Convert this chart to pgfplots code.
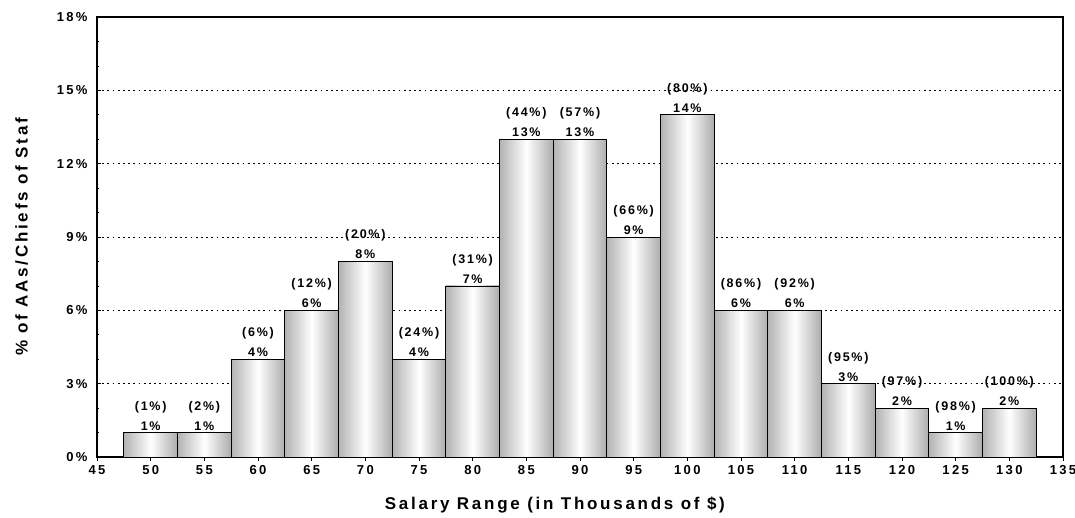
\documentclass[border=0pt]{standalone}
\usepackage{fontspec}
\setmainfont{Liberation Sans}
\usepackage{pgfplots}
\usepackage{pgfplotstable}
\pgfplotsset{compat=1.18}
\pgfplotstableread{
x y cum
50 1 1
55 1 2
60 4 6
65 6 12
70 8 20
75 4 24
80 7 31
85 13 44
90 13 57
95 9 66
100 14 80
105 6 86
110 6 92
115 3 95
120 2 97
125 1 98
130 2 100
}\datatable
\begin{document}
\begin{tikzpicture}
\useasboundingbox (-97pt,-60pt) rectangle (978pt,457pt);
\begin{axis}[
  at={(0,0)}, anchor=south west,
  width=966pt, height=440pt, scale only axis,
  xmin=45, xmax=135, ymin=0, ymax=18,
  xtick={45,50,...,135},
  ytick={0,3,...,18},
  minor y tick num=2,
  yticklabel={\pgfmathprintnumber{\tick}\%},
  /pgf/number format/assume math mode=true,
  ticklabel style={font=\fontsize{13}{15}\selectfont\bfseries\addfontfeature{LetterSpace=18}},
  x tick label style={yshift=-1pt},
  y tick label style={xshift=-6pt},
  xtick align=outside, ytick align=inside,
  major tick length=4pt, minor tick length=2pt,
  tick style={black, line width=0.6pt},
  xtick pos=bottom, ytick pos=left,
  axis line style={line width=1.6pt},
  ymajorgrids,
  grid style={black, line width=0.9pt, dash pattern=on 1.8pt off 3.4pt},
  xlabel={Salary Range (in Thousands of \$)},
  ylabel={\% of AAs/Chiefs of Staf},
  label style={font=\fontsize{17}{20}\selectfont\bfseries\addfontfeature{LetterSpace=16}},
  xlabel style={at={(axis description cs:0.474,-0.108)}, anchor=center},
  ylabel style={at={(axis description cs:-0.078,0.5)}, anchor=center},
  clip=false,
]
\pgfplotsinvokeforeach{50,55,...,130}{
\addplot[ybar, bar width=5, bar shift=0pt, draw=black, line width=0.7pt,
  left color=gray!60, right color=gray!65, middle color=white,
  restrict x to domain=#1:#1,
  point meta=\thisrow{cum},
  nodes near coords={(\pgfmathprintnumber{\pgfplotspointmeta}\%)\\\pgfmathprintnumber{\pgfkeysvalueof{/data point/y}}\%},
  nodes near coords style={align=center, anchor=south, inner sep=1pt, yshift=1pt,
    font=\fontsize{12.5}{20}\selectfont\bfseries\addfontfeature{LetterSpace=14}, text=black},
] table[x=x, y=y] {\datatable};
}
\end{axis}
\end{tikzpicture}
\end{document}
